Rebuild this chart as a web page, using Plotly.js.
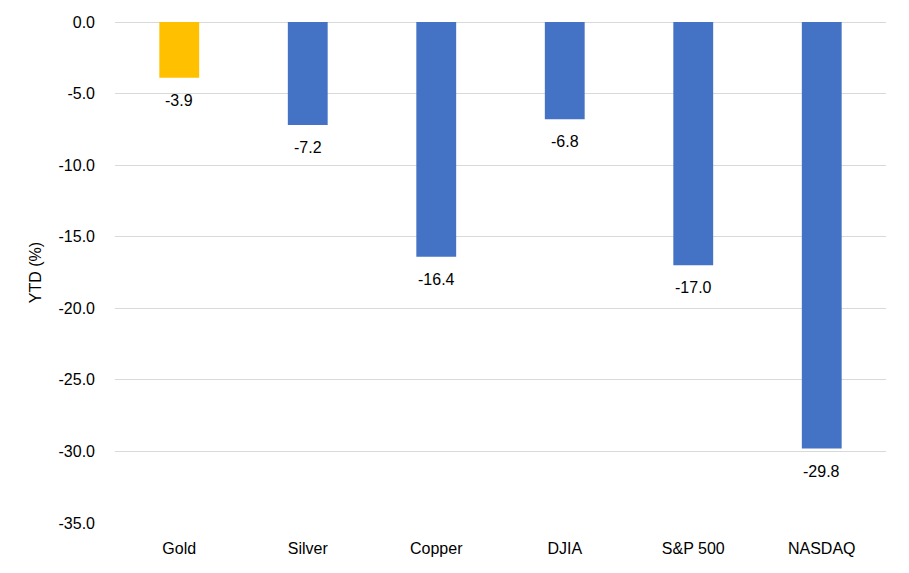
<!DOCTYPE html>
<html>
<head>
<meta charset="utf-8">
<script src="https://cdn.plot.ly/plotly-3.0.1.min.js"></script>
<style>html,body{margin:0;padding:0;background:#fff;}#chart{width:909px;height:573px;}</style>
</head>
<body>
<div id="chart"></div>
<script>
const categories = ["Gold", "Silver", "Copper", "DJIA", "S&P 500", "NASDAQ"];
const ytdValues = [-3.9, -7.2, -16.4, -6.8, -17.0, -29.8];
const barColors = ["#FFC000", "#4472C4", "#4472C4", "#4472C4", "#4472C4", "#4472C4"];
const yTickValues = [0, -5, -10, -15, -20, -25, -30, -35];

const fontFamily = "Liberation Sans, Arial, sans-serif";
const fsize = 16;

const trace = {
  type: "bar",
  x: categories,
  y: ytdValues,
  marker: { color: barColors },
  hoverinfo: "x+y"
};

const annotations = categories.map((c, i) => ({
  x: c,
  y: ytdValues[i],
  xref: "x",
  yref: "y",
  text: ytdValues[i].toFixed(1),
  showarrow: false,
  yanchor: "top",
  yshift: -12,
  font: { family: fontFamily, size: fsize, color: "#000" }
}));

const layout = {
  width: 909,
  height: 573,
  margin: { l: 115, r: 23, t: 22, b: 50 },
  paper_bgcolor: "#fff",
  plot_bgcolor: "#fff",
  bargap: 0.69,
  showlegend: false,
  font: { family: fontFamily, size: fsize, color: "#000" },
  annotations: annotations,
  xaxis: {
    type: "category",
    showgrid: false,
    zeroline: false,
    showline: false,
    ticks: "",
    ticklabelstandoff: 14,
    tickfont: { family: fontFamily, size: fsize, color: "#000" }
  },
  yaxis: {
    range: [-35, 0],
    tickvals: yTickValues,
    ticktext: yTickValues.map(v => v.toFixed(1)),
    showgrid: true,
    gridcolor: "#d9d9d9",
    gridwidth: 1,
    zeroline: true,
    zerolinecolor: "#d9d9d9",
    zerolinewidth: 1,
    showline: false,
    ticks: "",
    ticklen: 0,
    ticklabelstandoff: 19,
    tickfont: { family: fontFamily, size: fsize, color: "#000" },
    title: { text: "YTD (%)", font: { family: fontFamily, size: fsize, color: "#000" }, standoff: 12 }
  }
};

Plotly.newPlot("chart", [trace], layout, { displayModeBar: false, staticPlot: true });
</script>
</body>
</html>
